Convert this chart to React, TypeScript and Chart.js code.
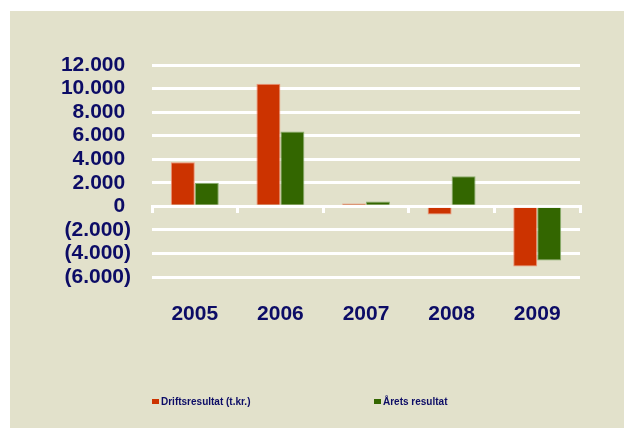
import React, { useEffect, useRef } from "react";
import { Chart, registerables } from "chart.js";

Chart.register(...registerables);

const categories = ["2005", "2006", "2007", "2008", "2009"];
const driftsresultat = [3750, 10400, 230, -700, -5100];
const aretsResultat = [2000, 6350, 400, 2550, -4600];
const seriesNames = ["Driftsresultat (t.kr.)", "Årets resultat"];
const yMin = -6000;
const yMax = 12000;
const yTickCount = 10;

const NAVY = "#0C0C66";
const BG = "#E2E1CB";
const RED = "#CC3300";
const GREEN = "#336600";
const FONT = "'Liberation Sans', Arial, sans-serif";

function fmt(v: number): string {
  const abs = Math.round(Math.abs(v));
  const s = abs.toString().replace(/\B(?=(\d{3})+(?!\d))/g, ".");
  return v < 0 ? "(" + s + ")" : s + " ";
}

const legendPlugin = {
  id: "customLegend",
  afterDraw(chart: any) {
    const ctx = chart.ctx;
    const area = chart.chartArea;
    const offsets = [0, 222];
    const y = 391;
    ctx.save();
    ctx.font = "bold 10px " + FONT;
    ctx.textBaseline = "middle";
    ctx.textAlign = "left";
    chart.data.datasets.forEach((ds: any, i: number) => {
      const x = area.left + offsets[i];
      ctx.fillStyle = ds.backgroundColor;
      ctx.fillRect(x, y - 3, 7, 5);
      ctx.fillStyle = NAVY;
      ctx.fillText(ds.label, x + 9, y);
    });
    ctx.restore();
  },
};

export default function App() {
  const ref = useRef<HTMLCanvasElement | null>(null);
  useEffect(() => {
    document.body.style.margin = "0";
    if (!ref.current) return;
    const chart = new Chart(ref.current, {
      type: "bar",
      data: {
        labels: categories,
        datasets: [
          {
            label: seriesNames[0],
            data: driftsresultat,
            backgroundColor: RED,
            borderColor: "rgba(240,140,110,0.9)",
            borderWidth: 1,
            xAxisID: "x",
          },
          {
            label: seriesNames[1],
            data: aretsResultat,
            backgroundColor: GREEN,
            borderColor: "rgba(130,170,100,0.9)",
            borderWidth: 1,
            xAxisID: "x",
          },
        ],
      },
      options: {
        animation: false,
        responsive: false,
        layout: { padding: { top: 54, right: 44, bottom: 103, left: 0 } },
        datasets: {
          bar: { categoryPercentage: 0.56, barPercentage: 1 },
        },
        plugins: {
          legend: { display: false },
          tooltip: { enabled: false },
        },
        scales: {
          x: {
            type: "category",
            position: "bottom",
            offset: true,
            grid: { display: false },
            border: { display: false },
            ticks: {
              color: NAVY,
              padding: 17,
              font: { family: FONT, size: 21, weight: "bold" },
            },
            afterFit: (scale: any) => {
              scale.height = 48;
            },
          },
          xz: {
            type: "category",
            position: { y: 0 },
            offset: true,
            z: 1,
            grid: {
              display: true,
              offset: true,
              drawOnChartArea: false,
              drawTicks: true,
              tickLength: 5,
              color: "#FFFFFF",
              lineWidth: 3,
            },
            border: { display: true, color: "#FFFFFF", width: 3 },
            ticks: { display: false },
            afterFit: (scale: any) => {
              scale.height = 0;
            },
          },
          y: {
            min: yMin,
            max: yMax,
            grid: {
              color: "#FFFFFF",
              lineWidth: 3,
              drawTicks: false,
            },
            border: { display: false },
            ticks: {
              count: yTickCount,
              autoSkip: false,
              color: NAVY,
              padding: 21,
              font: { family: FONT, size: 21, weight: "bold" },
              callback: (v: any) => fmt(Number(v)),
            },
            afterFit: (scale: any) => {
              scale.width = 142;
            },
          },
        },
      } as any,
      plugins: [legendPlugin],
    });
    return () => chart.destroy();
  }, []);
  return (
    <div
      style={{
        position: "fixed",
        left: 10,
        top: 11,
        right: 0,
        bottom: 0,
        background: BG,
      }}
    >
      <canvas ref={ref} width={614} height={417} style={{ display: "block" }} />
    </div>
  );
}
